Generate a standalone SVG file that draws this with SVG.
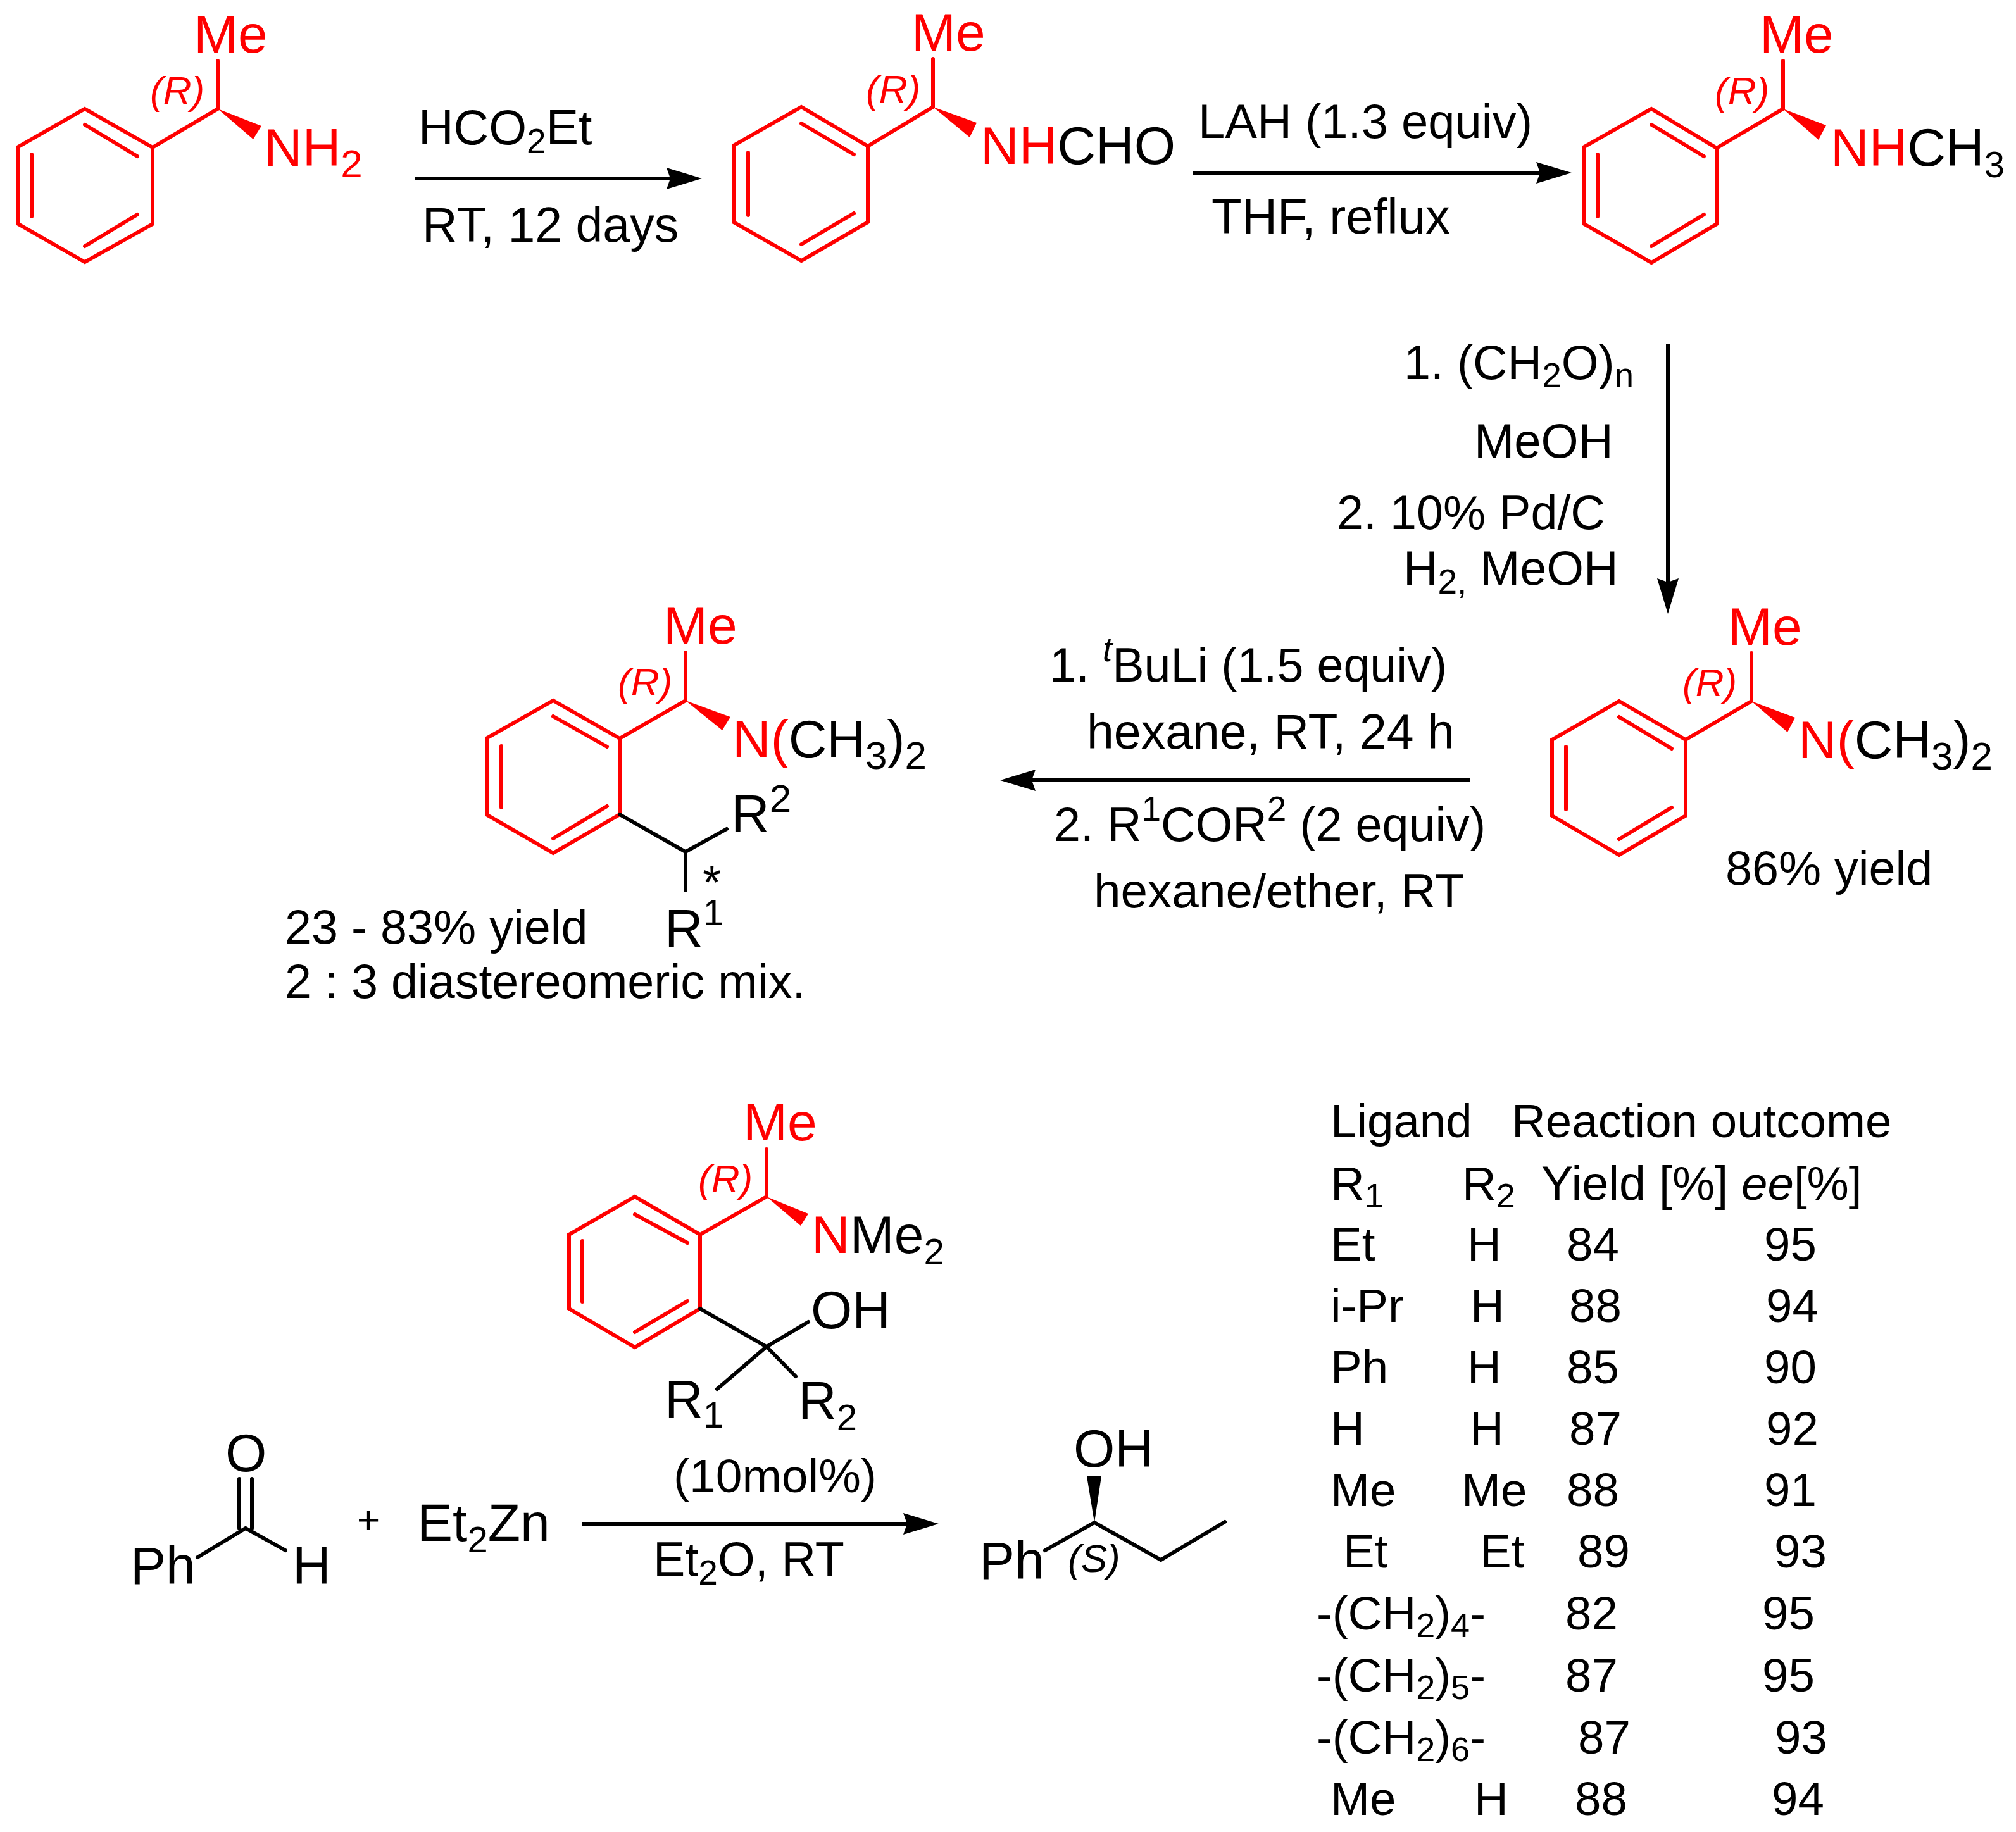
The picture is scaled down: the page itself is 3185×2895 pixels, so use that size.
<svg xmlns="http://www.w3.org/2000/svg" width="3185" height="2895" viewBox="0 0 3185 2895">
<style>
text{font-family:"Liberation Sans",Arial,sans-serif;font-size:75.5px;fill:#000}
.f{font-size:84px}
.g{font-size:77px}
.red{fill:#f00}
.st{font-size:62px;font-style:italic}
.t{font-size:74.5px}
.b{fill:none;stroke-width:6;stroke-linejoin:miter;stroke-linecap:round}
.r{stroke:#f00}
.k{stroke:#000}
.w{fill:#f00}
.a{stroke:#000;stroke-width:6;fill:none;marker-end:url(#ah)}
.s{font-size:55px}
.m{font-size:58px}
.l{font-size:62px}
.n{font-size:54px}
</style>
<defs>
<marker id="ah" markerUnits="userSpaceOnUse" markerWidth="56" markerHeight="34" viewBox="0 0 56 34" refX="6" refY="17" orient="auto"><path d="M0 0L56 17L0 34L6 17Z" fill="#000"/></marker>
</defs>
<rect width="3185" height="2895" fill="#fff"/>
<g id="connectors">
<path class="a" d="M656 282H1059"/>
<path class="a" d="M1885 273H2433"/>
<path class="a" d="M2635 543V920"/>
<path class="a" d="M2323 1233H1630"/>
<path class="a" d="M920 2408H1433"/>
</g>
<g id="mol1">
<path class="b r" d="M134 172L241 233V354L134 414L29 354V232ZM134 197L217 247M50 244V342M217 339L134 389M241 233L344 172V96"/>
<path class="w" d="M344 172L413 199L400 220Z"/>
<text class="f red" x="306" y="83">Me</text>
<text class="st red" x="237" y="164">(R)</text>
<text class="f red" x="417" y="262">NH<tspan class="l" dy="18">2</tspan></text>
</g>
<g id="reagents1">
<text class="g" x="661" y="228">HCO<tspan class="s" dy="14">2</tspan><tspan dy="-14">Et</tspan></text>
<text class="g" x="667" y="382">RT, 12 days</text>
</g>
<g id="mol2">
<path class="b r" d="M1266 169L1371 231V351L1266 412L1159 351V230ZM1266 195L1349 244M1182 241V340M1349 337L1266 386M1371 231L1474 169V93"/>
<path class="w" d="M1474 169L1543 194L1532 217Z"/>
<text class="f red" x="1440" y="80">Me</text>
<text class="st red" x="1368" y="162">(R)</text>
<text class="f" x="1549" y="259"><tspan class="red">NH</tspan>CHO</text>
</g>
<g id="reagents2">
<text x="1893" y="218" style="font-size:76px">LAH (1.3 equiv)</text>
<text x="1914" y="369" style="font-size:78px">THF, reflux</text>
</g>
<g id="mol3">
<path class="b r" d="M2609 172L2712 234V354L2609 415L2503 354V232ZM2609 197L2692 247M2524 244V342M2692 339L2609 389M2712 234L2817 172V96"/>
<path class="w" d="M2817 172L2885 198L2873 221Z"/>
<text class="f red" x="2780" y="83">Me</text>
<text class="st red" x="2709" y="165">(R)</text>
<text class="f" x="2892" y="262"><tspan class="red">NH</tspan>CH<tspan class="m" dy="18">3</tspan></text>
</g>
<g id="reagents3">
<text x="2218" y="599">1. (CH<tspan class="s" dy="13">2</tspan><tspan dy="-13">O)</tspan><tspan class="s" dy="13">n</tspan></text>
<text x="2329" y="723" style="font-size:76px">MeOH</text>
<text x="2112" y="836">2. 10% Pd/C</text>
<text x="2217" y="924">H<tspan class="s" dy="14">2,</tspan><tspan dy="-14"> MeOH</tspan></text>
</g>
<g id="mol5">
<path class="b r" d="M2558 1108L2663 1169V1289L2558 1351L2452 1289V1169ZM2558 1133L2641 1183M2474 1180V1279M2641 1276L2558 1326M2663 1169L2767 1108V1032"/>
<path class="w" d="M2767 1108L2836 1134L2824 1157Z"/>
<text class="f red" x="2730" y="1019">Me</text>
<text class="st red" x="2658" y="1100">(R)</text>
<text class="f" x="2841" y="1198"><tspan class="red">N(</tspan>CH<tspan class="l" dy="18">3</tspan><tspan dy="-18">)</tspan><tspan class="l" dy="18">2</tspan></text>
<text x="2726" y="1398">86% yield</text>
</g>
<g id="reagents4">
<text x="1658" y="1077">1. <tspan class="s" font-style="italic" dy="-32">t</tspan><tspan dy="32">BuLi (1.5 equiv)</tspan></text>
<text class="g" x="1717" y="1183">hexane, RT, 24 h</text>
<text x="1665" y="1329">2. R<tspan class="s" dy="-32">1</tspan><tspan dy="32">COR</tspan><tspan class="s" dy="-32">2</tspan><tspan dy="32"> (2 equiv)</tspan></text>
<text x="1728" y="1434" style="font-size:76.5px">hexane/ether, RT</text>
</g>
<g id="mol4">
<path class="b r" d="M874 1107L979 1167V1287L874 1348L770 1288V1166ZM874 1132L959 1180M792 1179V1276M959 1274L874 1325M979 1167L1083 1107V1031"/>
<path class="w" d="M1083 1107L1154 1133L1141 1154Z"/>
<path class="b k" d="M979 1287L1083 1346L1148 1310M1083 1346V1407"/>
<text class="f red" x="1048" y="1017">Me</text>
<text class="st red" x="976" y="1099">(R)</text>
<text class="f" x="1157" y="1197"><tspan class="red">N(</tspan>CH<tspan class="l" dy="18">3</tspan><tspan dy="-18">)</tspan><tspan class="l" dy="18">2</tspan></text>
<text class="f" x="1155" y="1315">R<tspan class="l" dy="-32">2</tspan></text>
<text x="1110" y="1420">*</text>
<text class="f" x="1050" y="1496">R<tspan class="m" dy="-34">1</tspan></text>
<text x="450" y="1491">23 - 83% yield</text>
<text x="450" y="1577">2 : 3 diastereomeric mix.</text>
</g>
<g id="mol6">
<path class="b r" d="M1003 1891L1106 1951V2068L1003 2129L899 2068V1951ZM1003 1919L1086 1964M920 1961V2057M1086 2056L1003 2105M1106 1951L1211 1891V1816"/>
<path class="w" d="M1211 1891L1277 1918L1265 1937Z"/>
<path class="b k" d="M1106 2068L1211 2128L1277 2089M1211 2128L1133 2195M1211 2128L1257 2175"/>
<text class="f red" x="1174" y="1802">Me</text>
<text class="st red" x="1103" y="1884">(R)</text>
<text class="f" x="1282" y="1980"><tspan class="red">N</tspan>Me<tspan class="m" dy="18">2</tspan></text>
<text class="f" x="1281" y="2099">OH</text>
<text class="f" x="1050" y="2240">R<tspan class="m" dy="16">1</tspan></text>
<text class="f" x="1261" y="2242">R<tspan class="m" dy="18">2</tspan></text>
</g>
<g id="benzaldehyde">
<path class="b k" d="M378 2337V2415M398 2337V2415M312 2461L388 2415L451 2450"/>
<text class="f" x="356" y="2325">O</text>
<text class="f" x="206" y="2503">Ph</text>
<text class="f" x="462" y="2503">H</text>
</g>
<text id="plus" x="564" y="2422" style="font-size:62px">+</text>
<g id="diethylzinc"><text class="f" x="659" y="2435">Et<tspan class="m" dy="18">2</tspan><tspan dy="-18">Zn</tspan></text></g>
<g id="reagents5">
<text x="1064" y="2358" style="font-size:75px">(10mol%)</text>
<text x="1032" y="2490">Et<tspan class="s" dy="14">2</tspan><tspan dy="-14">O, RT</tspan></text>
</g>
<g id="product">
<path class="b k" d="M1651 2450L1729 2406L1834 2465L1935 2405"/>
<path d="M1729 2406L1717 2333H1740Z" fill="#000"/>
<text class="f" x="1696" y="2318">OH</text>
<text class="f" x="1547" y="2495">Ph</text>
<text class="st" x="1687" y="2484">(S)</text>
</g>
<g id="table">
<text class="t" x="2102" y="1797">Ligand</text>
<text class="t" x="2388" y="1797">Reaction outcome</text>
<text class="t" x="2102" y="1896">R<tspan class="n" dy="12">1</tspan></text>
<text class="t" x="2310" y="1896">R<tspan class="n" dy="12">2</tspan></text>
<text x="2435" y="1896">Yield [%]</text>
<text class="t" x="2751" y="1896"><tspan font-style="italic">ee</tspan>[%]</text>
<text class="t" x="2102" y="1992">Et</text><text class="t" x="2318" y="1992">H</text><text class="t" x="2475" y="1992">84</text><text class="t" x="2787" y="1992">95</text>
<text class="t" x="2102" y="2089">i-Pr</text><text class="t" x="2323" y="2089">H</text><text class="t" x="2479" y="2089">88</text><text class="t" x="2790" y="2089">94</text>
<text class="t" x="2102" y="2186">Ph</text><text class="t" x="2318" y="2186">H</text><text class="t" x="2475" y="2186">85</text><text class="t" x="2787" y="2186">90</text>
<text class="t" x="2102" y="2283">H</text><text class="t" x="2322" y="2283">H</text><text class="t" x="2479" y="2283">87</text><text class="t" x="2790" y="2283">92</text>
<text class="t" x="2102" y="2380">Me</text><text class="t" x="2309" y="2380">Me</text><text class="t" x="2475" y="2380">88</text><text class="t" x="2787" y="2380">91</text>
<text class="t" x="2122" y="2477">Et</text><text class="t" x="2338" y="2477">Et</text><text class="t" x="2492" y="2477">89</text><text class="t" x="2803" y="2477">93</text>
<text class="t" x="2080" y="2575">-(CH<tspan class="n" dy="12">2</tspan><tspan dy="-12">)</tspan><tspan class="n" dy="12">4</tspan><tspan dy="-12">-</tspan></text><text class="t" x="2473" y="2575">82</text><text class="t" x="2784" y="2575">95</text>
<text class="t" x="2080" y="2673">-(CH<tspan class="n" dy="12">2</tspan><tspan dy="-12">)</tspan><tspan class="n" dy="12">5</tspan><tspan dy="-12">-</tspan></text><text class="t" x="2473" y="2673">87</text><text class="t" x="2784" y="2673">95</text>
<text class="t" x="2080" y="2771">-(CH<tspan class="n" dy="12">2</tspan><tspan dy="-12">)</tspan><tspan class="n" dy="12">6</tspan><tspan dy="-12">-</tspan></text><text class="t" x="2493" y="2771">87</text><text class="t" x="2804" y="2771">93</text>
<text class="t" x="2102" y="2868">Me</text><text class="t" x="2329" y="2868">H</text><text class="t" x="2488" y="2868">88</text><text class="t" x="2799" y="2868">94</text>
</g>
</svg>
